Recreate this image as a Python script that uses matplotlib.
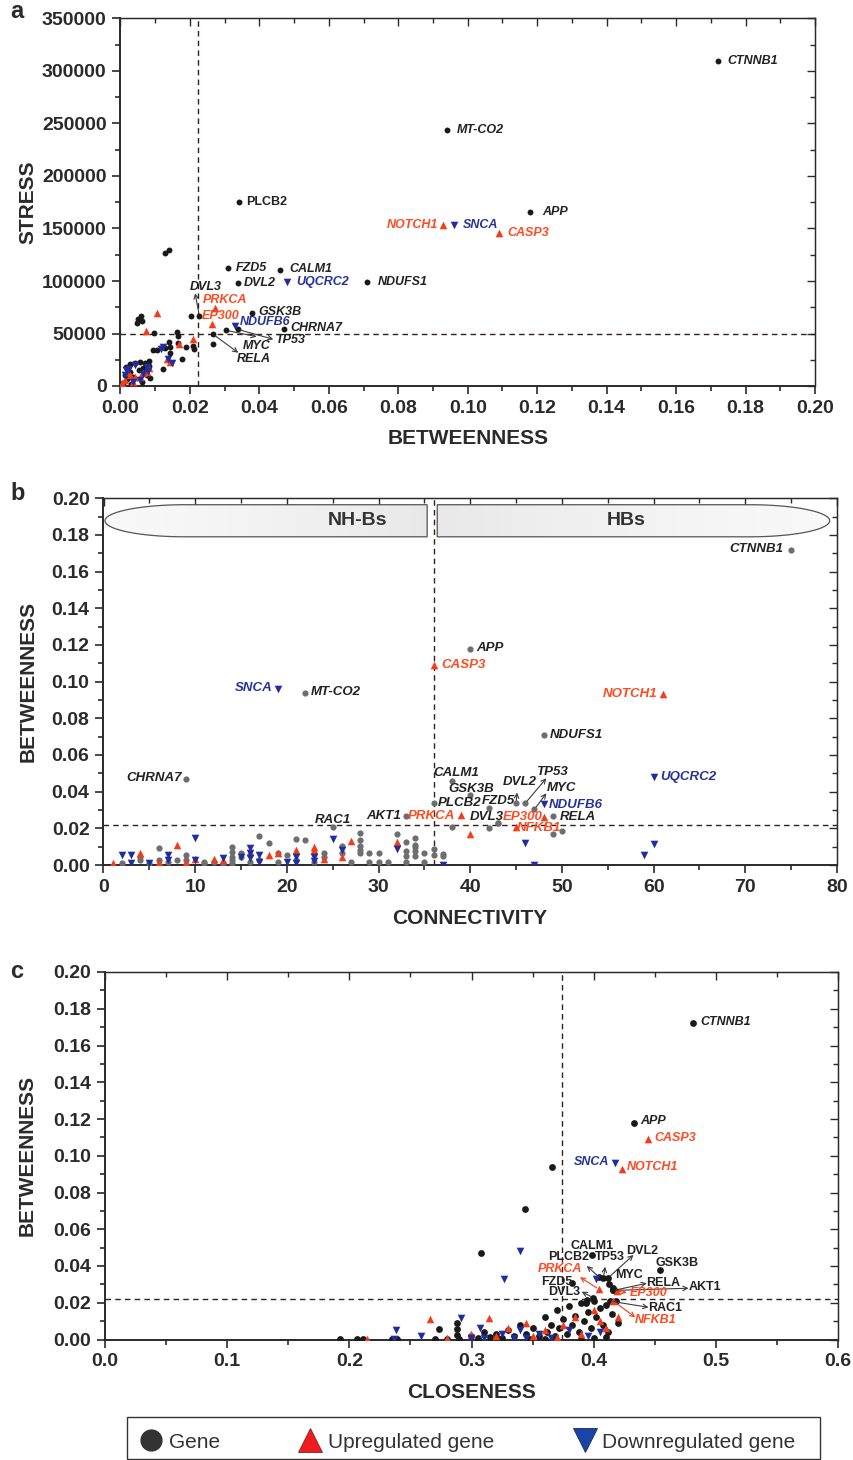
import numpy as np
import matplotlib
matplotlib.use('Agg')
import matplotlib.pyplot as plt
from matplotlib.lines import Line2D
from matplotlib.path import Path
from matplotlib.patches import PathPatch, Rectangle
from matplotlib.ticker import MultipleLocator, FormatStrFormatter

plt.rcParams['font.family'] = ['Liberation Sans', 'DejaVu Sans']
plt.rcParams['font.weight'] = 'bold'
plt.rcParams['axes.labelweight'] = 'bold'

# ---------------- hub genes (labelled) ----------------
hub_names = ['CTNNB1', 'APP', 'MT-CO2', 'NOTCH1', 'SNCA', 'CASP3', 'NDUFS1', 'CHRNA7',
             'UQCRC2', 'CALM1', 'GSK3B', 'PLCB2', 'FZD5', 'DVL2', 'TP53', 'MYC',
             'NDUFB6', 'RELA', 'DVL3', 'EP300', 'NFKB1', 'AKT1', 'PRKCA', 'RAC1']
hub_type = ['gene', 'gene', 'gene', 'up', 'down', 'up', 'gene', 'gene',
            'down', 'gene', 'gene', 'gene', 'gene', 'gene', 'gene', 'gene',
            'down', 'gene', 'gene', 'up', 'up', 'gene', 'up', 'gene']
hub_betweenness = [0.172, 0.118, 0.094, 0.093, 0.096, 0.109, 0.071, 0.047,
                   0.048, 0.046, 0.038, 0.034, 0.031, 0.0337, 0.0337, 0.0304,
                   0.0331, 0.0267, 0.0227, 0.0263, 0.0209, 0.0267, 0.0273, 0.0209]
hub_stress = [309500, 165700, 243500, 153300, 153300, 145400, 98800, 54600,
              99300, 110500, 69800, 175200, 112000, 97800, 54000, 53000,
              57400, 49200, 66700, 59000, 44500, 40000, 74600, 38100]
hub_connectivity = [75, 40, 22, 61, 19, 36, 48, 9,
                    60, 38, 40, 36, 42, 45, 46, 47,
                    48, 49, 43, 48, 45, 33, 39, 25]
hub_closeness = [0.4815, 0.4331, 0.366, 0.4233, 0.4176, 0.4446, 0.344, 0.308,
                 0.3396, 0.3984, 0.4545, 0.4044, 0.3825, 0.4121, 0.408, 0.4129,
                 0.402, 0.4162, 0.3997, 0.4189, 0.4162, 0.4157, 0.4044, 0.4135]

# ---------------- other genes, panel a (betweenness, stress) ----------------
a_gene_x = [0.0058, 0.0051, 0.0061, 0.0047, 0.0128, 0.0140, 0.0097, 0.0162, 0.0167, 0.0141,
            0.0167, 0.0143, 0.0189, 0.0213, 0.0104, 0.0094, 0.0128, 0.0123, 0.0176, 0.0143,
            0.0202, 0.0016, 0.0027, 0.0042, 0.0056, 0.0071, 0.0083, 0.0083, 0.0066, 0.0054,
            0.0027, 0.0013, 0.0018, 0.0037, 0.0075, 0.0085, 0.0061, 0.0008, 0.0004, 0.0030]
a_gene_y = [67000, 63800, 62200, 59700, 126400, 129500, 50200, 51400, 47600, 42200,
            40700, 37400, 36900, 35000, 34300, 34300, 36500, 15900, 25400, 31100,
            66700, 18400, 20600, 22200, 23200, 21600, 23800, 19400, 16800, 15200,
            13700, 10500, 6300, 8900, 10500, 7300, 4100, 3200, 1000, 2000]
a_up_x = [0.0104, 0.0073, 0.0168, 0.0133, 0.0143, 0.0018, 0.0027, 0.0042, 0.0056, 0.0075,
          0.0083, 0.0013, 0.0005, 0.0035, 0.0066]
a_up_y = [69200, 52400, 40000, 25400, 23100, 13700, 10500, 8300, 8900, 13700,
          16800, 5700, 2500, 4000, 12000]
a_down_x = [0.0123, 0.0118, 0.0138, 0.0147, 0.0042, 0.0016, 0.0013, 0.0056, 0.0037, 0.0075,
            0.0066, 0.0080, 0.0025]
a_down_y = [37400, 35000, 25400, 21600, 20000, 15200, 10500, 5700, 3800, 18000,
            11000, 14500, 16500]

# ---------------- other genes, panel b (connectivity, betweenness) ----------------
b_gene_x = [2, 4, 4, 5, 6, 6, 7, 8, 9, 9, 11, 11, 12, 13, 14, 14, 14, 14, 14, 15,
            15, 16, 17, 18, 17, 19, 20, 21, 22, 21, 23, 24, 24, 26, 26, 28, 28, 28, 28, 28,
            29, 30, 29, 30, 27, 31, 32, 33, 34, 34, 34, 33, 35, 36, 37, 33, 34, 33, 34, 35,
            37, 36, 38, 43, 42, 49, 50, 19]
b_gene_y = [0.0009, 0.0027, 0.0045, 0.0009, 0.0091, 0.0027, 0.0018, 0.0027, 0.0055, 0.0027,
            0.0018, 0.0009, 0.0018, 0.0009, 0.0100, 0.0073, 0.0045, 0.0027, 0.0009, 0.0064,
            0.0045, 0.0018, 0.0158, 0.0120, 0.0027, 0.0064, 0.0055, 0.0140, 0.0136, 0.0027,
            0.0018, 0.0064, 0.0042, 0.0104, 0.0064, 0.0176, 0.0135, 0.0106, 0.0082, 0.0064,
            0.0067, 0.0067, 0.0018, 0.0018, 0.0018, 0.0018, 0.0169, 0.0127, 0.0146, 0.0109,
            0.0078, 0.0078, 0.0064, 0.0086, 0.0060, 0.0049, 0.0049, 0.0018, 0.0097, 0.0018,
            0.0051, 0.0055, 0.0206, 0.0227, 0.0200, 0.0169, 0.0187, 0.0018]
b_up_x = [1, 4, 8, 10, 12, 13, 16, 18, 19, 6, 9, 21, 23, 24, 26, 27, 32, 40, 23]
b_up_y = [0.0009, 0.0064, 0.0109, 0.0031, 0.0031, 0.0027, 0.0073, 0.0055, 0.0064, 0.0018,
          0.0018, 0.0082, 0.0082, 0.0031, 0.0045, 0.0131, 0.0127, 0.0169, 0.0097]
b_down_x = [2, 3, 3, 5, 7, 7, 10, 10, 13, 15, 16, 16, 16, 17, 17, 20, 25, 26, 32, 23,
            23, 21, 21, 37, 46, 47, 60, 59]
b_down_y = [0.0055, 0.0055, 0.0013, 0.0009, 0.0055, 0.0027, 0.0146, 0.0027, 0.0036, 0.0045,
            0.0090, 0.0064, 0.0036, 0.0055, 0.0018, 0.0018, 0.0142, 0.0082, 0.0088, 0.0046,
            0.0020, 0.0046, 0.0011, 0.0, 0.0122, 0.0, 0.0115, 0.0055]

# ---------------- other genes, panel c (closeness, betweenness) ----------------
c_gene_x = [0.192, 0.206, 0.211, 0.235, 0.239, 0.273, 0.288, 0.288, 0.288, 0.270,
            0.280, 0.290, 0.300, 0.305, 0.310, 0.315, 0.320, 0.325, 0.330, 0.335,
            0.340, 0.345, 0.350, 0.355, 0.360, 0.362, 0.365, 0.368, 0.370, 0.372,
            0.375, 0.378, 0.380, 0.382, 0.385, 0.388, 0.390, 0.392, 0.395, 0.398,
            0.400, 0.402, 0.405, 0.408, 0.410, 0.412, 0.415, 0.418, 0.420, 0.348,
            0.322, 0.360, 0.390, 0.400, 0.410, 0.3948, 0.3937, 0.4157]
c_gene_y = [0.0003, 0.0003, 0.0003, 0.0003, 0.0003, 0.0055, 0.0090, 0.0055, 0.0025, 0.0005,
            0.0005, 0.0003, 0.0020, 0.0010, 0.0040, 0.0015, 0.0030, 0.0010, 0.0050, 0.0020,
            0.0080, 0.0030, 0.0060, 0.0020, 0.0120, 0.0040, 0.0080, 0.0020, 0.0160, 0.0060,
            0.0110, 0.0030, 0.0180, 0.0080, 0.0130, 0.0040, 0.0200, 0.0100, 0.0150, 0.0060,
            0.0210, 0.0120, 0.0170, 0.0080, 0.0190, 0.0040, 0.0140, 0.0210, 0.0090, 0.0005,
            0.0005, 0.0005, 0.0005, 0.0010, 0.0013, 0.0215, 0.0200, 0.0279]
c_up_x = [0.2664, 0.2147, 0.314, 0.300, 0.330, 0.345, 0.360, 0.375, 0.385, 0.390,
          0.400, 0.405, 0.410, 0.320, 0.280, 0.350, 0.370, 0.420]
c_up_y = [0.0110, 0.0003, 0.0117, 0.0030, 0.0060, 0.0090, 0.0050, 0.0080, 0.0120, 0.0030,
          0.0160, 0.0100, 0.0060, 0.0020, 0.0010, 0.0020, 0.0015, 0.0120]
c_down_x = [0.3265, 0.2379, 0.2367, 0.2584, 0.291, 0.307, 0.310, 0.325, 0.335, 0.340,
            0.355, 0.365, 0.380, 0.395, 0.405, 0.345, 0.300]
c_down_y = [0.0328, 0.0052, 0.0005, 0.0020, 0.0117, 0.0060, 0.0010, 0.0030, 0.0008, 0.0050,
            0.0030, 0.0010, 0.0050, 0.0020, 0.0040, 0.0010, 0.0006]

# ---------------- label layout (text position, alignment, arrow tip) ----------------
a_layout = {
    'CTNNB1': (0.1747, 309500, 'left'), 'MT-CO2': (0.0969, 243800, 'left'),
    'PLCB2': (0.0361, 175200, 'left'), 'APP': (0.1214, 165700, 'left'),
    'NOTCH1': (0.0914, 153300, 'right'), 'SNCA': (0.0986, 153300, 'left'),
    'CASP3': (0.1113, 145700, 'left'), 'FZD5': (0.0333, 112400, 'left'),
    'CALM1': (0.0485, 111400, 'left'), 'DVL2': (0.0356, 98100, 'left'),
    'UQCRC2': (0.0505, 99000, 'left'), 'NDUFS1': (0.0742, 98800, 'left'),
    'DVL3': (0.0200, 94300, 'left'), 'PRKCA': (0.0238, 81900, 'left'),
    'EP300': (0.0235, 66700, 'left'), 'GSK3B': (0.0396, 70500, 'left'),
    'NDUFB6': (0.0344, 61000, 'left'), 'CHRNA7': (0.0488, 55200, 'left'),
    'TP53': (0.0445, 43800, 'left'), 'MYC': (0.0353, 38100, 'left'),
    'RELA': (0.0336, 25700, 'left'),
}
a_arrows = {'DVL3': (0.0215, 88300), 'TP53': (0.0440, 44500),
            'MYC': (0.0392, 47000), 'RELA': (0.0339, 31700)}

b_layout = {
    'CTNNB1': (74.2, 0.1724, 'right'), 'APP': (40.7, 0.1184, 'left'),
    'CASP3': (36.8, 0.1091, 'left'), 'SNCA': (18.4, 0.0966, 'right'),
    'MT-CO2': (22.6, 0.0944, 'left'), 'NOTCH1': (60.4, 0.0933, 'right'),
    'NDUFS1': (48.7, 0.0709, 'left'), 'CHRNA7': (8.5, 0.0475, 'right'),
    'UQCRC2': (60.7, 0.0480, 'left'), 'CALM1': (36.0, 0.0502, 'left'),
    'GSK3B': (37.6, 0.0415, 'left'), 'PLCB2': (36.5, 0.0338, 'left'),
    'FZD5': (41.3, 0.0349, 'left'), 'DVL2': (43.6, 0.0453, 'left'),
    'TP53': (47.2, 0.0507, 'left'), 'MYC': (48.3, 0.0420, 'left'),
    'NDUFB6': (48.6, 0.0327, 'left'), 'RELA': (49.8, 0.0264, 'left'),
    'DVL3': (39.9, 0.0262, 'left'), 'EP300': (43.6, 0.0262, 'left'),
    'NFKB1': (45.1, 0.0202, 'left'), 'AKT1': (32.5, 0.0267, 'right'),
    'PRKCA': (38.4, 0.0267, 'right'), 'RAC1': (25.0, 0.0245, 'center'),
}
b_arrows = {'DVL2': (45.1, 0.0395), 'TP53': (48.3, 0.0473), 'MYC': (48.3, 0.0391)}

c_layout = {
    'CTNNB1': (0.4873, 0.1728, 'left'), 'APP': (0.4380, 0.1189, 'left'),
    'CASP3': (0.4495, 0.1097, 'left'), 'SNCA': (0.4126, 0.0966, 'right'),
    'NOTCH1': (0.4274, 0.0939, 'left'), 'CALM1': (0.3984, 0.0509, 'center'),
    'PLCB2': (0.3793, 0.0447, 'center'), 'TP53': (0.4135, 0.0447, 'center'),
    'DVL2': (0.4395, 0.0483, 'center'), 'GSK3B': (0.4682, 0.0418, 'center'),
    'PRKCA': (0.3724, 0.0382, 'center'), 'MYC': (0.4293, 0.0351, 'center'),
    'FZD5': (0.3702, 0.0315, 'center'), 'RELA': (0.4572, 0.0306, 'center'),
    'AKT1': (0.4914, 0.0287, 'center'), 'DVL3': (0.3757, 0.0260, 'center'),
    'EP300': (0.4449, 0.0251, 'center'), 'RAC1': (0.4586, 0.0170, 'center'),
    'NFKB1': (0.4504, 0.0106, 'center'),
}
c_arrows = {'PLCB2': (0.3944, 0.0400), 'TP53': (0.4094, 0.0396), 'DVL2': (0.4326, 0.0460),
            'RELA': (0.4435, 0.0306), 'AKT1': (0.4777, 0.0279), 'PRKCA': (0.3888, 0.0339),
            'EP300': (0.4271, 0.0255), 'DVL3': (0.3902, 0.0260), 'RAC1': (0.4449, 0.0175),
            'NFKB1': (0.4340, 0.0121)}
c_upright = ['CALM1', 'PLCB2', 'TP53', 'DVL2', 'GSK3B', 'MYC', 'FZD5', 'RELA', 'AKT1',
             'DVL3', 'RAC1']

RED = '#f23c1c'
BLUE = '#1f2d9e'
RED_TXT = '#ff4a22'
BLUE_TXT = '#26339a'
INK = '#2a2a2a'
DASH = '#3a1e1e'
col_txt = {'gene': '#222222', 'up': RED_TXT, 'down': BLUE_TXT}

fig = plt.figure(figsize=(8.54, 14.6), dpi=100)
axa = fig.add_axes([120.5 / 854, (1460 - 386) / 1460, 694.5 / 854, 367.5 / 1460])
axb = fig.add_axes([103.5 / 854, (1460 - 865) / 1460, 733.5 / 854, 366.7 / 1460])
axc = fig.add_axes([105.0 / 854, (1460 - 1339.5) / 1460, 733.0 / 854, 367.5 / 1460])


def style(ax, xmaj, ymaj, xfmt, yfmt):
    ax.xaxis.set_major_locator(MultipleLocator(xmaj))
    ax.xaxis.set_minor_locator(MultipleLocator(xmaj / 2))
    ax.yaxis.set_major_locator(MultipleLocator(ymaj))
    ax.yaxis.set_minor_locator(MultipleLocator(ymaj / 2))
    ax.xaxis.set_major_formatter(FormatStrFormatter(xfmt))
    ax.yaxis.set_major_formatter(FormatStrFormatter(yfmt))
    ax.tick_params(which='both', direction='out', width=1.2, colors=INK,
                   labelsize=14, pad=4)
    ax.tick_params(which='major', length=6)
    ax.tick_params(which='minor', length=3.5)
    for s in ax.spines.values():
        s.set_color(INK)
        s.set_linewidth(1.0)
    ax.spines['left'].set_linewidth(1.4)
    ax.spines['bottom'].set_linewidth(1.4)
    # inward ticks on top / right
    sx = ax.secondary_xaxis('top')
    sx.xaxis.set_major_locator(MultipleLocator(xmaj))
    sx.xaxis.set_minor_locator(MultipleLocator(xmaj / 2))
    sx.tick_params(which='both', direction='in', colors=INK, labeltop=False, width=1.0)
    sx.tick_params(which='major', length=6)
    sx.tick_params(which='minor', length=3.5)
    sy = ax.secondary_yaxis('right')
    sy.yaxis.set_major_locator(MultipleLocator(ymaj))
    sy.yaxis.set_minor_locator(MultipleLocator(ymaj / 2))
    sy.tick_params(which='both', direction='in', colors=INK, labelright=False, width=1.0)
    sy.tick_params(which='major', length=6)
    sy.tick_params(which='minor', length=3.5)
    for s in list(sx.spines.values()) + list(sy.spines.values()):
        s.set_color(INK)


def draw_points(ax, gx, gy, ux, uy, dx, dy, hx, hy, gene_col, sdot, stri):
    ax.scatter(gx, gy, s=sdot, c=gene_col, marker='o', linewidths=0, zorder=3)
    ax.scatter(ux, uy, s=stri, c=RED, marker='^', linewidths=0, zorder=4)
    ax.scatter(dx, dy, s=stri, c=BLUE, marker='v', linewidths=0, zorder=4)
    mk = {'gene': 'o', 'up': '^', 'down': 'v'}
    cl = {'gene': gene_col, 'up': RED, 'down': BLUE}
    for t in ['gene', 'up', 'down']:
        xs = [x for x, tt in zip(hx, hub_type) if tt == t]
        ys = [y for y, tt in zip(hy, hub_type) if tt == t]
        ax.scatter(xs, ys, s=sdot if t == 'gene' else stri, c=cl[t], marker=mk[t],
                   linewidths=0, zorder=5)


def draw_labels(ax, hx, hy, layout, arrows, fs, upright=()):
    for name, (tx, ty, ha) in layout.items():
        i = hub_names.index(name)
        t = hub_type[i]
        style_ = 'normal' if name in upright else 'italic'
        ax.text(tx, ty, name, ha=ha, va='center', fontsize=fs, fontweight='bold',
                fontstyle=style_, color=col_txt[t], zorder=6)
        if name in arrows:
            acol = RED if t == 'up' else '#3a3a3a'
            ax.annotate('', xy=arrows[name], xytext=(hx[i], hy[i]),
                        arrowprops=dict(arrowstyle='->', color=acol, lw=0.8,
                                        shrinkA=2, shrinkB=0, mutation_scale=8),
                        zorder=6)


# ---------------- panel a ----------------
axa.set_xlim(0, 0.2)
axa.set_ylim(0, 350000)
style(axa, 0.02, 50000, '%.2f', '%d')
draw_points(axa, a_gene_x, a_gene_y, a_up_x, a_up_y, a_down_x, a_down_y,
            hub_betweenness, hub_stress, '#1a1a1a', 18, 30)
axa.axvline(0.0222, color=DASH, ls=(0, (4, 3)), lw=1.0, zorder=2)
axa.axhline(50000, color=DASH, ls=(0, (4, 3)), lw=1.0, zorder=2)
draw_labels(axa, hub_betweenness, hub_stress, a_layout, a_arrows, 9, upright=('PLCB2',))
axa.set_xlabel('BETWEENNESS', fontsize=15, color=INK)
axa.set_ylabel('STRESS', fontsize=15, color=INK)
axa.xaxis.set_label_coords(0.5, -0.1415)
axa.yaxis.set_label_coords(-0.133, 0.5)

# ---------------- panel b ----------------
axb.set_xlim(0, 80)
axb.set_ylim(0, 0.2)
style(axb, 10, 0.02, '%d', '%.2f')
draw_points(axb, b_gene_x, b_gene_y, b_up_x, b_up_y, b_down_x, b_down_y,
            hub_connectivity, hub_betweenness, '#6e6e6e', 20, 30)
axb.axvline(36, color=DASH, ls=(0, (4, 3)), lw=1.0, zorder=2)
axb.axhline(0.022, color=DASH, ls=(0, (4, 3)), lw=1.0, zorder=2)
draw_labels(axb, hub_connectivity, hub_betweenness, b_layout, b_arrows, 9.5)
axb.set_xlabel('CONNECTIVITY', fontsize=15, color=INK)
axb.set_ylabel('BETWEENNESS', fontsize=15, color=INK)
axb.xaxis.set_label_coords(0.5, -0.147)
axb.yaxis.set_label_coords(-0.103, 0.5)


# banner capsules for non-hub / hub bottlenecks
def capsule(x_flat, x_tip, y0, y1, cap):
    ym, b = (y0 + y1) / 2, (y1 - y0) / 2
    sgn = 1 if x_tip > x_flat else -1
    cx = x_tip - sgn * cap
    th = np.linspace(np.pi / 2, -np.pi / 2, 60)
    ex = cx + sgn * cap * np.cos(th)
    ey = ym + b * np.sin(th)
    verts = [(x_flat, y1)] + list(zip(ex, ey)) + [(x_flat, y0), (x_flat, y1)]
    codes = [Path.MOVETO] + [Path.LINETO] * (len(verts) - 2) + [Path.CLOSEPOLY]
    return Path(verts, codes)


grad = np.linspace(0, 1, 256).reshape(1, -1)
for x_flat, x_tip, txt, tx in [(35.3, 0.16, 'NH-Bs', 27.7), (36.4, 79.2, 'HBs', 57.0)]:
    p = capsule(x_flat, x_tip, 0.179, 0.1965, 8.7)
    patch = PathPatch(p, facecolor='none', edgecolor='#555555', lw=0.9, zorder=7)
    axb.add_patch(patch)
    lo, hi = min(x_flat, x_tip), max(x_flat, x_tip)
    g = grad if x_tip < x_flat else grad[:, ::-1]
    im = axb.imshow(g, cmap='Greys', vmin=-0.4, vmax=8, extent=(lo, hi, 0.179, 0.1965),
                    aspect='auto', zorder=6.5, interpolation='bilinear')
    im.set_clip_path(patch)
    axb.text(tx, 0.1878, txt, ha='center', va='center', fontsize=14, fontweight='bold',
             color='#333333', zorder=8)
axb.set_xlim(0, 80)
axb.set_ylim(0, 0.2)

# ---------------- panel c ----------------
axc.set_xlim(0, 0.6)
axc.set_ylim(0, 0.2)
style(axc, 0.1, 0.02, '%.1f', '%.2f')
draw_points(axc, c_gene_x, c_gene_y, c_up_x, c_up_y, c_down_x, c_down_y,
            hub_closeness, hub_betweenness, '#1a1a1a', 24, 30)
axc.axvline(0.374, color=DASH, ls=(0, (4, 3)), lw=1.0, zorder=2)
axc.axhline(0.022, color=DASH, ls=(0, (4, 3)), lw=1.0, zorder=2)
draw_labels(axc, hub_closeness, hub_betweenness, c_layout, c_arrows, 9, upright=c_upright)
axc.set_xlabel('CLOSENESS', fontsize=15, color=INK)
axc.set_ylabel('BETWEENNESS', fontsize=15, color=INK)
axc.xaxis.set_label_coords(0.5, -0.143)
axc.yaxis.set_label_coords(-0.106, 0.5)

for ax in (axa, axb, axc):
    ax.xaxis.label.set_va('center')
    ax.yaxis.label.set_va('center')

# panel letters
for letter, ypx in [('a', 12), ('b', 494), ('c', 972)]:
    fig.text(10 / 854, 1 - ypx / 1460, letter, fontsize=17, fontweight='bold',
             color=INK, ha='left', va='center')

# legend (frame drawn separately so the entries can sit a bit left of its right edge)
fig.patches.append(Rectangle((127 / 854, 1 / 1460), 693 / 854, 42 / 1460,
                             transform=fig.transFigure, facecolor='none',
                             edgecolor='#333333', lw=1.0))
handles = [Line2D([], [], ls='none', marker='o', ms=15, mfc='#333333', mec='#333333'),
           Line2D([], [], ls='none', marker='^', ms=17, mfc='#ee1c1c', mec='#7a2a2a', mew=0.6),
           Line2D([], [], ls='none', marker='v', ms=17, mfc='#1a45a8', mec='#1a2a5a', mew=0.6)]
leg = fig.legend(handles, ['Gene', 'Upregulated gene', 'Downregulated gene'],
                 loc='upper left', bbox_to_anchor=(127 / 854, 0, 681 / 854, 40 / 1460),
                 mode='expand', ncol=3, frameon=False,
                 borderpad=0.6, handlelength=1.1, handletextpad=0.3,
                 prop={'size': 15, 'weight': 'normal'}, borderaxespad=0)
for t in leg.get_texts():
    t.set_color('#333333')

fig.savefig('out.png', dpi=100)
